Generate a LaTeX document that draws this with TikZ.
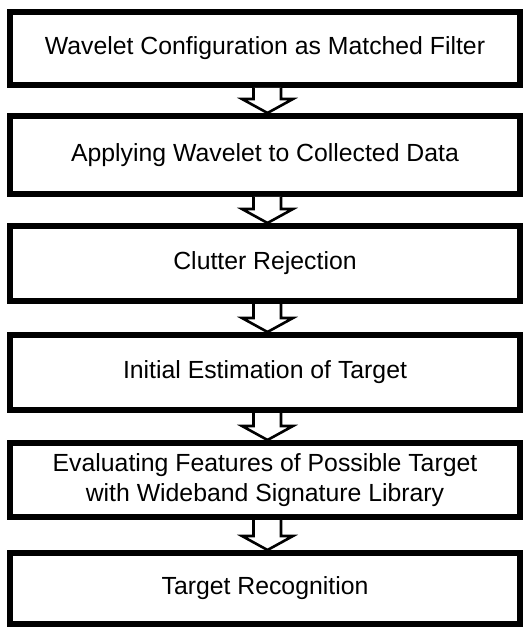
\documentclass[tikz,border=0pt]{standalone}
\usepackage{fontspec}
\setmainfont{Liberation Sans}
\usetikzlibrary{calc}
\tikzset{
  stage/.style={draw=black, line width=6pt, fill=white,
    minimum width=510pt, inner sep=0pt, align=center,
    font=\fontsize{24.8}{30}\selectfont},
  hollowarrow/.style={draw=black, line width=2.6pt, fill=white,
    line join=miter},
}
\newcommand{\flowarrow}[2]{%
  \draw[hollowarrow]
    ($(#1.south)+(-11.5pt,0)$) -- ($(#2.north)+(-11.5pt,14pt)$)
    -- ($(#2.north)+(-23pt,14pt)$) -- ($(#2.north)+(2.5pt,0)$)
    -- ($(#2.north)+(28pt,14pt)$) -- ($(#2.north)+(16pt,14pt)$)
    -- ($(#1.south)+(16pt,0)$);}
\begin{document}
\begin{tikzpicture}[x=1pt,y=-1pt]
  \useasboundingbox (0,0) rectangle (525,628);
  \node[stage, minimum height=73pt] (b1) at (265,48.5)
    {Wavelet Configuration as Matched Filter};
  \node[stage, minimum height=78pt] (b2) at (265,155)
    {Applying Wavelet to Collected Data};
  \node[stage, minimum height=75pt] (b3) at (265,263.5)
    {Clutter Rejection};
  \node[stage, minimum height=75pt] (b4) at (265,372.5)
    {Initial Estimation of Target};
  \node[stage, minimum height=74pt] (b5) at (265,480)
    {Evaluating Features of Possible Target\\with Wideband Signature Library};
  \node[stage, minimum height=71pt] (b6) at (265,588.5)
    {Target Recognition};
  \flowarrow{b1}{b2}
  \flowarrow{b2}{b3}
  \flowarrow{b3}{b4}
  \flowarrow{b4}{b5}
  \flowarrow{b5}{b6}
\end{tikzpicture}
\end{document}
